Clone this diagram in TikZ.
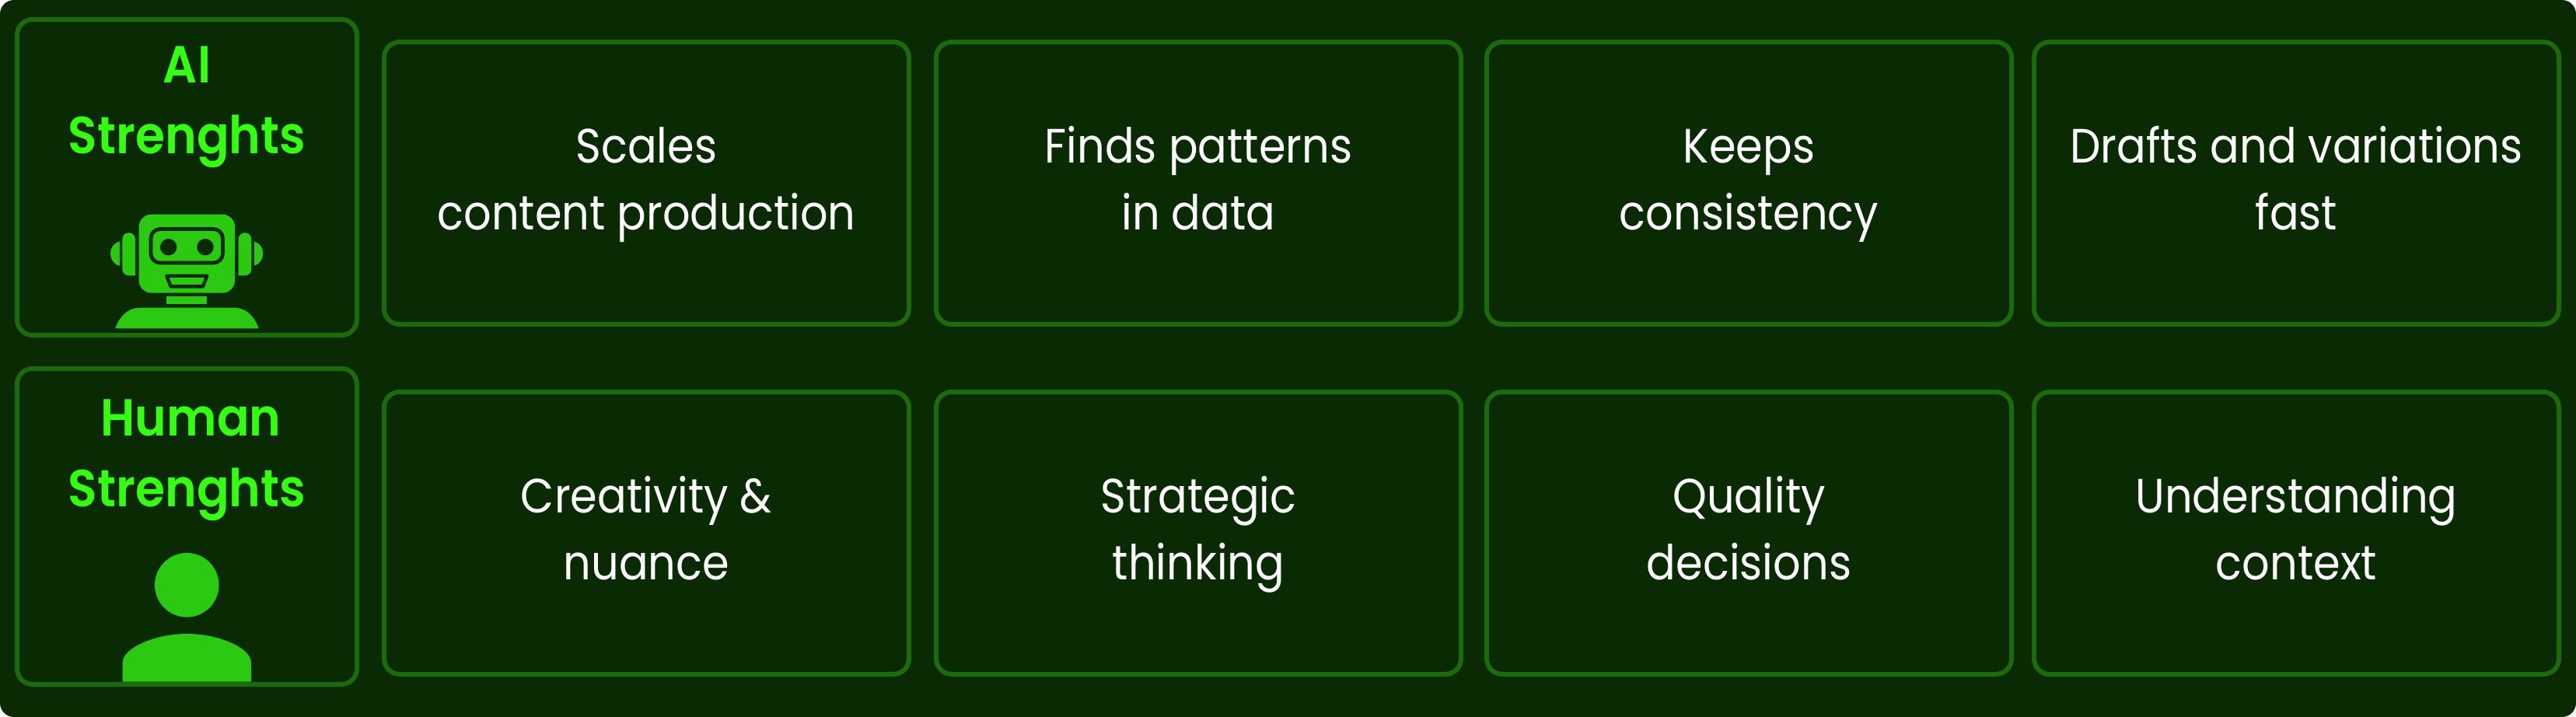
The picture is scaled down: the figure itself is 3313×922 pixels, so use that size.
\documentclass[tikz,border=0pt]{standalone}
\usepackage{fontspec}
\usepackage{tikz}
\setmainfont{Poppins}
\newfontfamily\bodyfont[FakeStretch=0.9]{Poppins}
\newfontfamily\titlefont[FakeStretch=0.92]{Poppins SemiBold}
\definecolor{panelbg}{HTML}{0A2A03}
\definecolor{boxline}{HTML}{1C6A0A}
\definecolor{titlegreen}{HTML}{36FF14}
\definecolor{icongreen}{HTML}{2CC912}

\begin{document}
\begin{tikzpicture}[x=0.25pt,y=-0.25pt,
    cellbox/.style={draw=boxline,line width=1.5pt,rounded corners=5pt,outer sep=0pt,inner sep=0pt,
        minimum width=168.75pt,minimum height=90.75pt,align=center,text=white,
        font=\bodyfont\fontsize{15.5pt}{21.3pt}\selectfont},
    sidebox/.style={draw=boxline,line width=1.5pt,rounded corners=5pt,outer sep=0pt,
        minimum width=109.25pt,minimum height=101.5pt},
    sidetitle/.style={inner sep=0pt,align=center,text=titlegreen,
        font=\titlefont\fontsize{16.75pt}{22.75pt}\selectfont}]
    \useasboundingbox (0,0) rectangle (3313,922);
    \fill[white] (0,0) rectangle (3313,922);
    \fill[panelbg,rounded corners=4.5pt] (0,0) rectangle (3313,922);

    \node[sidebox] (aibox) at (240.5,228) {};
    \node[sidetitle] (aititle) at (240.5,134) {\strut AI\\\strut Strenghts};
    \node[sidebox] (humanbox) at (240.5,677) {};
    \node[sidetitle] (humantitle) at (240.5,587.5) {\strut\hspace*{2.5pt}Human\\\strut Strenghts};

    \node[cellbox] (scales) at (831.5,235.5) {\strut Scales\\\strut content production};
    \node[cellbox] (patterns) at (1541.5,235.5) {\strut Finds patterns\\\strut in data};
    \node[cellbox] (consistency) at (2249.5,235.5) {\strut Keeps\\\strut consistency};
    \node[cellbox] (drafts) at (2953.5,235.5) {\strut Drafts and variations\\\strut fast};

    \node[cellbox] (creativity) at (831.5,685.5) {\strut Creativity \&\\\strut nuance};
    \node[cellbox] (strategic) at (1541.5,685.5) {\strut Strategic\\\strut thinking};
    \node[cellbox] (quality) at (2249.5,685.5) {\strut Quality\\\strut decisions};
    \node[cellbox] (context) at (2953.5,685.5) {\strut Understanding\\\strut context};

    \fill[icongreen,rounded corners=4pt] (178.7,275.7) rectangle (302,376.7);
    \draw[panelbg,line width=1.2pt,rounded corners=3pt] (194,294.5) rectangle (286.5,338);
    \fill[panelbg] (216.7,317.7) circle (10.7);
    \fill[panelbg] (264,317.7) circle (10.7);
    \draw[panelbg,line width=1.1pt,line join=round] (214.3,354.7) -- (266.3,354.7) -- (261,368.3) -- (219.7,368.3) -- cycle;
    \fill[icongreen,rounded corners=2pt] (174,299.3) [sharp corners] -- (174,354.3) [rounded corners=2pt] -- (157.3,354.3) -- (157.3,299.3) -- cycle;
    \fill[icongreen,rounded corners=2pt] (306.7,299.3) [sharp corners] -- (306.7,354.3) [rounded corners=2pt] -- (323.3,354.3) -- (323.3,299.3) -- cycle;
    \fill[icongreen] (154,310.7) .. controls (146,312) and (142,319) .. (142,326) .. controls (142,333) and (146,340) .. (154,341.7) -- cycle;
    \fill[icongreen] (327,310.7) .. controls (334,312) and (338.3,319) .. (338.3,326) .. controls (338.3,333) and (334,340) .. (327,341.7) -- cycle;
    \fill[icongreen] (214.3,381) rectangle (266,391);
    \fill[icongreen] (148.3,422.3) .. controls (154,406) and (165,395.7) .. (180,395.7) -- (301,395.7) .. controls (316,395.7) and (327,406) .. (332.7,422.3) -- cycle;

    \fill[icongreen] (240.3,752.3) circle (41.3);
    \fill[icongreen] (157.7,876.7) -- (157.7,852) .. controls (157.7,833) and (200,815) .. (240.3,815) .. controls (281,815) and (323,833) .. (323,852) -- (323,876.7) -- cycle;
\end{tikzpicture}
\end{document}
